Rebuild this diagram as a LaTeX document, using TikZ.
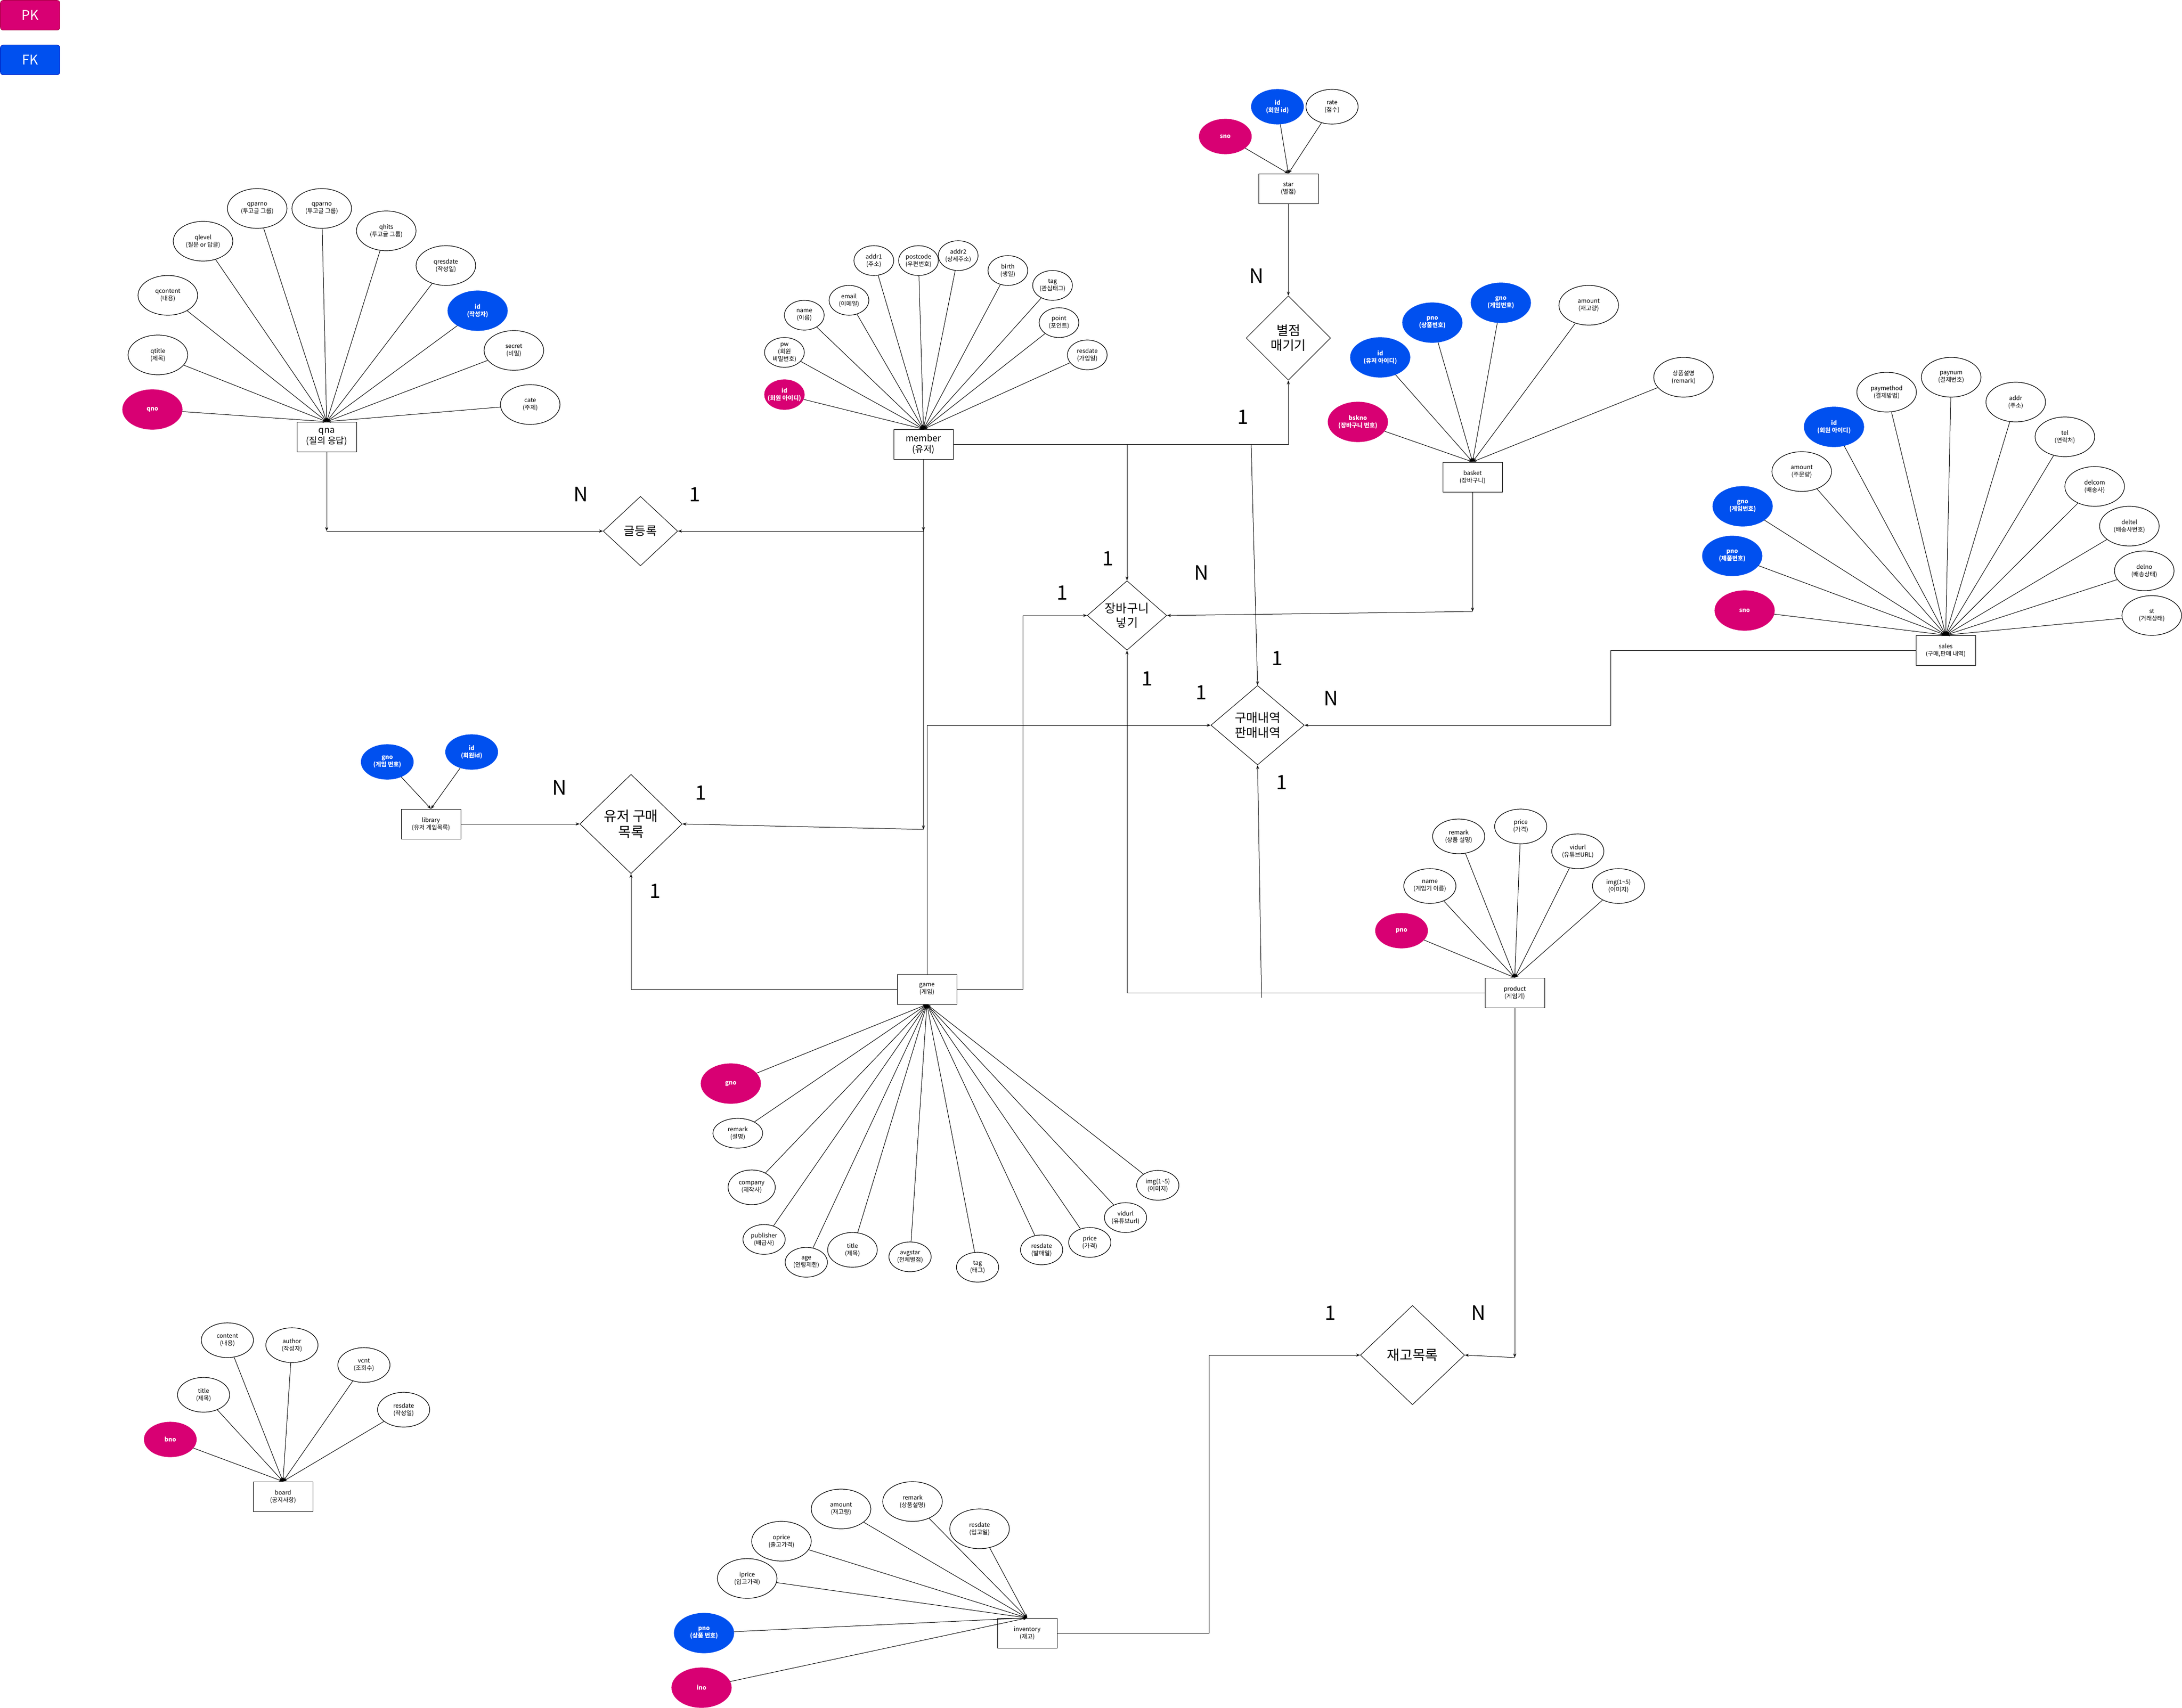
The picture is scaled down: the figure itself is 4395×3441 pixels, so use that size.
\documentclass[tikz,border=0pt]{standalone}
\usepackage{fontspec}
\setmainfont{Noto Sans CJK KR}
\usetikzlibrary{shapes.geometric, arrows.meta}
\definecolor{pkpink}{HTML}{D80073}
\definecolor{pkline}{HTML}{A50040}
\definecolor{fkblue}{HTML}{0050EF}
\definecolor{fkline}{HTML}{001DBC}

\begin{document}
\begin{tikzpicture}[x=1pt, y=-1pt, >={Stealth[length=8pt, width=6pt]}, line width=1pt,
        entity/.style={rectangle, draw, text centered, align=center, minimum width=120pt, minimum height=60pt, font=\fontsize{12}{15}\selectfont},
        entbig/.style={font=\fontsize{18}{22}\selectfont},
        attr/.style={ellipse, draw, line width=1.2pt, align=center, inner sep=-10pt, font=\fontsize{12}{15}\selectfont, minimum width=120pt, minimum height=80pt},
        attrmid/.style={minimum width=105pt, minimum height=70pt},
        attrsmall/.style={minimum width=80pt, minimum height=60pt},
        attrgame/.style={minimum width=85pt, minimum height=60pt},
        pk/.style={attr, fill=pkpink, draw=pkpink, text=white, font=\fontsize{12}{15}\selectfont\bfseries},
        fk/.style={attr, fill=fkblue, draw=fkblue, text=white, font=\fontsize{12}{15}\selectfont\bfseries},
        relation/.style={diamond, draw, align=center, inner sep=-8pt, font=\fontsize{24}{29}\selectfont},
        card/.style={inner sep=0pt, font=\fontsize{40}{48}\selectfont},
        key/.style={rectangle, rounded corners=6pt, minimum width=120pt, minimum height=60pt, text=white, font=\fontsize{27}{32}\selectfont},
        point/.style={coordinate}]

    \useasboundingbox (0,0) rectangle (4395,3441);

    % Legend
    \node (pk_key) [key, fill=pkpink, draw=pkline] at (60.7,30.7) {PK};
    \node (fk_key) [key, fill=fkblue, draw=fkline] at (60.7,120.7) {FK};

    % qna
    \node (qna) [entity, entbig] at (658,880) {qna\\(질의 응답)};
    \node (qna_qno) [pk] at (307,825) {qno};
    \node (qna_qtitle) [attr] at (318,715) {qtitle\\(제목)};
    \node (qna_qcontent) [attr] at (338,595) {qcontent\\(내용)};
    \node (qna_qlevel) [attr] at (409,486) {qlevel\\(질문 or 답글)};
    \node (qna_qparno) [attr] at (518,420) {qparno\\(투고글 그룹)};
    \node (qna_qparno2) [attr] at (648,420) {qparno\\(투고글 그룹)};
    \node (qna_qhits) [attr] at (778,465) {qhits\\(투고글 그룹)};
    \node (qna_qresdate) [attr] at (898,535) {qresdate\\(작성일)};
    \node (qna_id) [fk] at (962,626) {id\\(작성자)};
    \node (qna_secret) [attr] at (1035,706) {secret\\(비밀)};
    \node (qna_cate) [attr] at (1068,815) {cate\\(주제)};

    \draw [->] (qna_qno) -- (qna.north);
    \draw [->] (qna_qtitle) -- (qna.north);
    \draw [->] (qna_qcontent) -- (qna.north);
    \draw [->] (qna_qlevel) -- (qna.north);
    \draw [->] (qna_qparno) -- (qna.north);
    \draw [->] (qna_qparno2) -- (qna.north);
    \draw [->] (qna_qhits) -- (qna.north);
    \draw [->] (qna_qresdate) -- (qna.north);
    \draw [->] (qna_id) -- (qna.north);
    \draw [->] (qna_secret) -- (qna.north);
    \draw [->] (qna_cate) -- (qna.north);

    % member
    \node (member) [entity, entbig] at (1860,895) {member\\(유저)};
    \node (mem_id) [pk, attrsmall] at (1580,795) {id\\(회원 아이디)};
    \node (mem_pw) [attr, attrsmall] at (1580,710) {pw\\(회원\\비밀번호)};
    \node (mem_name) [attr, attrsmall] at (1620,635) {name\\(이름)};
    \node (mem_email) [attr, attrsmall] at (1710,605) {email\\(이메일)};
    \node (mem_addr1) [attr, attrsmall] at (1760,525) {addr1\\(주소)};
    \node (mem_postcode) [attr, attrsmall] at (1850,525) {postcode\\(우편번호)};
    \node (mem_addr2) [attr, attrsmall] at (1930,515) {addr2\\(상세주소)};
    \node (mem_birth) [attr, attrsmall] at (2030,545) {birth\\(생일)};
    \node (mem_tag) [attr, attrsmall] at (2120,575) {tag\\(관심태그)};
    \node (mem_point) [attr, attrsmall] at (2133,650) {point\\(포인트)};
    \node (mem_resdate) [attr, attrsmall] at (2190,715) {resdate\\(가입일)};

    \draw [->] (mem_id) -- (member.north);
    \draw [->] (mem_pw) -- (member.north);
    \draw [->] (mem_name) -- (member.north);
    \draw [->] (mem_email) -- (member.north);
    \draw [->] (mem_addr1) -- (member.north);
    \draw [->] (mem_postcode) -- (member.north);
    \draw [->] (mem_addr2) -- (member.north);
    \draw [->] (mem_birth) -- (member.north);
    \draw [->] (mem_tag) -- (member.north);
    \draw [->] (mem_point) -- (member.north);
    \draw [->] (mem_resdate) -- (member.north);

    % star
    \node (star) [entity] at (2595,380) {star\\(별점)};
    \node (star_sno) [pk, attrmid] at (2468,275) {sno};
    \node (star_id) [fk, attrmid] at (2573,215) {id\\(회원 id)};
    \node (star_rate) [attr, attrmid] at (2683,215) {rate\\(점수)};

    \draw [->] (star_sno) -- (star.north);
    \draw [->] (star_id) -- (star.north);
    \draw [->] (star_rate) -- (star.north);

    % basket
    \node (basket) [entity] at (2966,961) {basket\\(장바구니)};
    \node (bsk_bskno) [pk] at (2735,850) {bskno\\(장바구니 번호)};
    \node (bsk_id) [fk] at (2780,720) {id\\(유저 아이디)};
    \node (bsk_pno) [fk] at (2885,650) {pno\\(상품번호)};
    \node (bsk_gno) [fk] at (3023,610) {gno\\(게임번호)};
    \node (bsk_amount) [attr] at (3200,615) {amount\\(재고량)};
    \node (bsk_remark) [attr] at (3391,760) {상품설명\\(remark)};

    \draw [->] (bsk_bskno) -- (basket.north);
    \draw [->] (bsk_id) -- (basket.north);
    \draw [->] (bsk_pno) -- (basket.north);
    \draw [->] (bsk_gno) -- (basket.north);
    \draw [->] (bsk_amount) -- (basket.north);
    \draw [->] (bsk_remark) -- (basket.north);

    % sales
    \node (sales) [entity] at (3919,1310) {sales\\(구매,판매 내역)};
    \node (sal_sno) [pk] at (3514,1230) {sno};
    \node (sal_pno) [fk] at (3489,1120) {pno\\(제품번호)};
    \node (sal_gno) [fk] at (3510,1020) {gno\\(게임번호)};
    \node (sal_amount) [attr] at (3629,950) {amount\\(주문량)};
    \node (sal_id) [fk] at (3694,860) {id\\(회원 아이디)};
    \node (sal_paymethod) [attr] at (3800,790) {paymethod\\(결제방법)};
    \node (sal_paynum) [attr] at (3930,760) {paynum\\(결제번호)};
    \node (sal_addr) [attr] at (4060,810) {addr\\(주소)};
    \node (sal_tel) [attr] at (4159,880) {tel\\(연락처)};
    \node (sal_delcom) [attr] at (4219,980) {delcom\\(배송사)};
    \node (sal_deltel) [attr] at (4289,1060) {deltel\\(배송사번호)};
    \node (sal_delno) [attr] at (4319,1150) {delno\\(배송상태)};
    \node (sal_st) [attr] at (4334,1240) {st\\(거래상태)};

    \draw [->] (sal_sno) -- (sales.north);
    \draw [->] (sal_pno) -- (sales.north);
    \draw [->] (sal_gno) -- (sales.north);
    \draw [->] (sal_amount) -- (sales.north);
    \draw [->] (sal_id) -- (sales.north);
    \draw [->] (sal_paymethod) -- (sales.north);
    \draw [->] (sal_paynum) -- (sales.north);
    \draw [->] (sal_addr) -- (sales.north);
    \draw [->] (sal_tel) -- (sales.north);
    \draw [->] (sal_delcom) -- (sales.north);
    \draw [->] (sal_deltel) -- (sales.north);
    \draw [->] (sal_delno) -- (sales.north);
    \draw [->] (sal_st) -- (sales.north);

    % library
    \node (library) [entity] at (868,1660) {library\\(유저 게임목록)};
    \node (lib_gno) [fk, attrmid] at (780,1535) {gno\\(게임 번호)};
    \node (lib_id) [fk, attrmid] at (950,1515) {id\\(회원id)};

    \draw [->] (lib_gno) -- (library.north);
    \draw [->] (lib_id) -- (library.north);

    % game
    \node (game) [entity] at (1867,1993) {game\\(게임)};
    \node (gam_gno) [pk] at (1472,2183) {gno};
    \node (gam_remark) [attr, minimum width=100pt, minimum height=60pt] at (1486,2283) {remark\\(설명)};
    \node (gam_company) [attr, minimum width=95pt, minimum height=70pt] at (1514,2392) {company\\(제작사)};
    \node (gam_publisher) [attr, attrgame] at (1539,2497) {publisher\\(배급사)};
    \node (gam_age) [attr, attrgame] at (1624,2543) {age\\(연령제한)};
    \node (gam_title) [attr, minimum width=100pt, minimum height=70pt] at (1717,2518) {title\\(제목)};
    \node (gam_avgstar) [attr, attrgame] at (1833,2532) {avgstar\\(전체별점)};
    \node (gam_tag) [attr, attrgame] at (1969,2553) {tag\\(태그)};
    \node (gam_resdate) [attr, attrgame] at (2098,2518) {resdate\\(발매일)};
    \node (gam_price) [attr, attrgame] at (2195,2503) {price\\(가격)};
    \node (gam_vidurl) [attr, attrgame] at (2267,2453) {vidurl\\(유튜브url)};
    \node (gam_img) [attr, attrgame] at (2332,2388) {img(1\textasciitilde5)\\(이미지)};

    \draw [->] (gam_gno) -- (game.south);
    \draw [->] (gam_remark) -- (game.south);
    \draw [->] (gam_company) -- (game.south);
    \draw [->] (gam_publisher) -- (game.south);
    \draw [->] (gam_age) -- (game.south);
    \draw [->] (gam_title) -- (game.south);
    \draw [->] (gam_avgstar) -- (game.south);
    \draw [->] (gam_tag) -- (game.south);
    \draw [->] (gam_resdate) -- (game.south);
    \draw [->] (gam_price) -- (game.south);
    \draw [->] (gam_vidurl) -- (game.south);
    \draw [->] (gam_img) -- (game.south);

    % product
    \node (product) [entity] at (3051,2000) {product\\(게임기)};
    \node (prd_pno) [pk, attrmid] at (2823,1875) {pno};
    \node (prd_name) [attr, attrmid] at (2880,1785) {name\\(게임기 이름)};
    \node (prd_remark) [attr, attrmid] at (2938,1685) {remark\\(상품 설명)};
    \node (prd_price) [attr, attrmid] at (3063,1665) {price\\(가격)};
    \node (prd_vidurl) [attr, attrmid] at (3178,1715) {vidurl\\(유튜브URL)};
    \node (prd_img) [attr, attrmid] at (3260,1785) {img(1\textasciitilde5)\\(이미지)};

    \draw [->] (prd_pno) -- (product.north);
    \draw [->] (prd_name) -- (product.north);
    \draw [->] (prd_remark) -- (product.north);
    \draw [->] (prd_price) -- (product.north);
    \draw [->] (prd_vidurl) -- (product.north);
    \draw [->] (prd_img) -- (product.north);

    % board
    \node (board) [entity] at (570,3015) {board\\(공지사항)};
    \node (brd_bno) [pk, attrmid] at (343,2900) {bno};
    \node (brd_title) [attr, attrmid] at (410,2810) {title\\(제목)};
    \node (brd_content) [attr, attrmid] at (458,2700) {content\\(내용)};
    \node (brd_author) [attr, attrmid] at (588,2710) {author\\(작성자)};
    \node (brd_vcnt) [attr, attrmid] at (733,2750) {vcnt\\(조회수)};
    \node (brd_resdate) [attr, attrmid] at (813,2840) {resdate\\(작성일)};

    \draw [->] (brd_bno) -- (board.north);
    \draw [->] (brd_title) -- (board.north);
    \draw [->] (brd_content) -- (board.north);
    \draw [->] (brd_author) -- (board.north);
    \draw [->] (brd_vcnt) -- (board.north);
    \draw [->] (brd_resdate) -- (board.north);

    % inventory
    \node (inventory) [entity] at (2069,3290) {inventory\\(재고)};
    \node (inv_ino) [pk] at (1413,3400) {ino};
    \node (inv_pno) [fk] at (1418,3290) {pno\\(상품 번호)};
    \node (inv_iprice) [attr] at (1505,3180) {iprice\\(입고가격)};
    \node (inv_oprice) [attr] at (1574,3105) {oprice\\(출고가격)};
    \node (inv_amount) [attr] at (1694,3040) {amount\\(재고량)};
    \node (inv_remark) [attr] at (1838,3025) {remark\\(상품설명)};
    \node (inv_resdate) [attr] at (1973,3080) {resdate\\(입고일)};

    \draw [->] (inv_ino) -- (inventory.north);
    \draw [->] (inv_pno) -- (inventory.north);
    \draw [->] (inv_iprice) -- (inventory.north);
    \draw [->] (inv_oprice) -- (inventory.north);
    \draw [->] (inv_amount) -- (inventory.north);
    \draw [->] (inv_remark) -- (inventory.north);
    \draw [->] (inv_resdate) -- (inventory.north);

    % Relationships
    \node (write) [relation, minimum width=150pt, minimum height=140pt] at (1290,1070) {글등록};
    \node (rating) [relation, minimum width=170pt, minimum height=170pt, font=\fontsize{26}{30}\selectfont] at (2595,681) {별점\\매기기};
    \node (cart) [relation, minimum width=160pt, minimum height=140pt] at (2270,1240) {장바구니\\넣기};
    \node (history) [relation, minimum width=188pt, minimum height=160pt, font=\fontsize{25}{30}\selectfont] at (2533,1461) {구매내역\\판매내역};
    \node (buylist) [relation, minimum width=206pt, minimum height=200pt, font=\fontsize{28}{32}\selectfont] at (1271,1660) {유저 구매\\목록};
    \node (stock) [relation, minimum width=210pt, minimum height=200pt, font=\fontsize{28}{32}\selectfont] at (2845,2730) {재고목록};

    % Cardinalities
    \node (write_n) [card] at (1170,996) {N};
    \node (write_1) [card] at (1400,996) {1};
    \node (rating_n) [card] at (2531,556) {N};
    \node (rating_1) [card] at (2504,840) {1};
    \node (cart_1a) [card] at (2232,1125) {1};
    \node (cart_n) [card] at (2420,1154) {N};
    \node (cart_1b) [card] at (2140,1194) {1};
    \node (cart_1c) [card] at (2311,1367) {1};
    \node (history_1a) [card] at (2573,1326) {1};
    \node (history_1b) [card] at (2420,1395) {1};
    \node (history_n) [card] at (2681,1407) {N};
    \node (history_1c) [card] at (2582,1576) {1};
    \node (buylist_n) [card] at (1127,1587) {N};
    \node (buylist_1a) [card] at (1412,1597) {1};
    \node (buylist_1b) [card] at (1320,1795) {1};
    \node (stock_1) [card] at (2680,2645) {1};
    \node (stock_n) [card] at (2978,2645) {N};

    % Free ends of the connectors
    \node (qna_end) [point] at (658,1070) {};
    \node (mem_end1) [point] at (1860,1070) {};
    \node (mem_end2) [point] at (1860,1671) {};
    \node (mem_end3) [point] at (2520,895) {};
    \node (bsk_end) [point] at (2966,1232) {};
    \node (prd_end1) [point] at (2541,2010) {};
    \node (prd_end2) [point] at (3051,2735) {};

    % qna and member
    \draw [->] (qna.south) -- (qna_end);
    \draw [->] (qna_end) -- (write.west);
    \draw [->] (member.south) -- (mem_end1);
    \draw [->] (mem_end1) -- (write.east);
    \draw [->] (member.south) -- (mem_end2);
    \draw [->] (mem_end2) -- (buylist.east);
    \draw [->] (member.east) -| (rating.south);
    \draw [->] (member.east) -| (cart.north);
    \draw [->] (mem_end3) -- (history.north);

    % star and library
    \draw [->] (star.south) -- (rating.north);
    \draw [->] (library.east) -- (buylist.west);

    % game
    \draw [->] (game.west) -| (buylist.south);
    \draw [->] (game.north) |- (history.west);
    \draw [->] (game.east) -- ++(133,0) |- (cart.west);

    % basket and product
    \draw [->] (basket.south) -- (bsk_end);
    \draw [->] (bsk_end) -- (cart.east);
    \draw [->] (product.west) -| (cart.south);
    \draw [->] (prd_end1) -- (history.south);
    \draw [->] (product.south) -- (prd_end2);
    \draw [->] (prd_end2) -- (stock.east);

    % sales and inventory
    \draw [->] (sales.west) -- ++(-614,0) |- (history.east);
    \draw [->] (inventory.east) -- ++(306,0) |- (stock.west);

\end{tikzpicture}
\end{document}
